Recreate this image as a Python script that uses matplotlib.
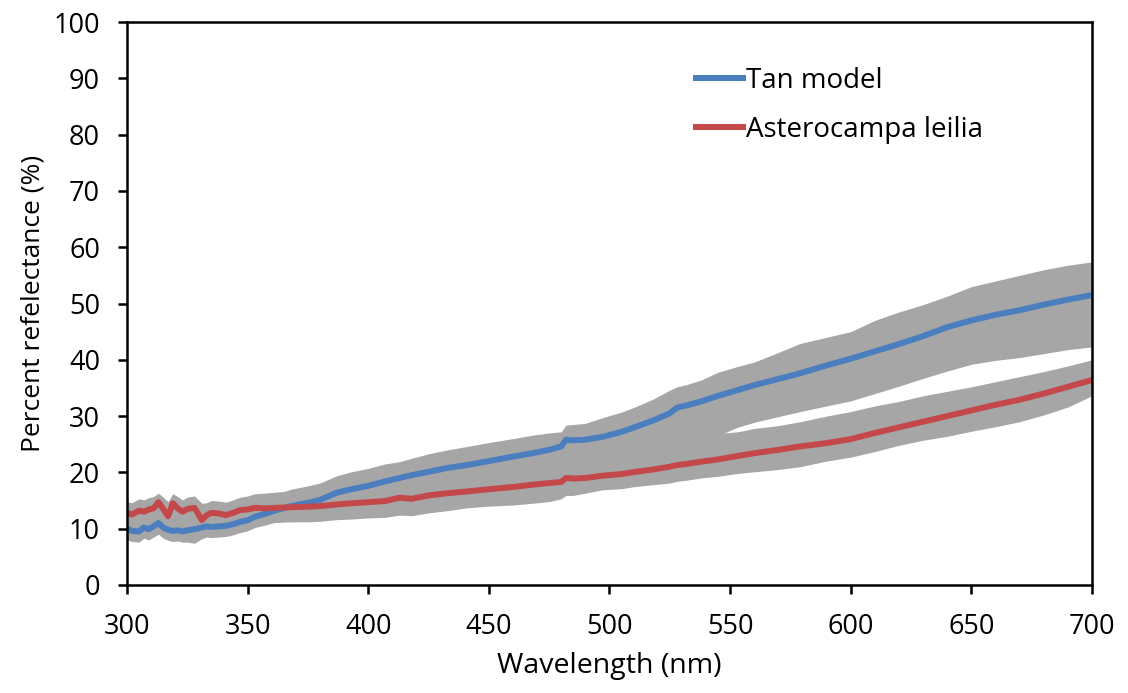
import numpy as np
import matplotlib
matplotlib.use("Agg")
import matplotlib.pyplot as plt

plt.rcParams['font.family'] = ['Open Sans', 'DejaVu Sans']

# wavelength grid (nm)
wl = [300, 302, 305, 307, 309, 311, 313, 315, 317, 319, 321, 323, 325, 328, 331,
      333, 335, 338, 341, 344, 347, 350, 353, 357, 362, 368, 375, 380, 387, 393,
      400, 407, 413, 418, 425, 433, 441, 450, 460, 468, 475, 480, 482, 485, 490,
      497, 505, 511, 518, 525, 528, 532, 538, 545, 553, 560, 570, 579, 590, 600,
      610, 620, 630, 640, 650, 660, 670, 680, 690, 700]

# Tan model mean and band edges
tan_mean = [10.0, 9.6, 9.5, 10.2, 9.9, 10.4, 11.0, 10.2, 9.8, 9.6, 9.7, 9.5, 9.7, 9.9, 10.2,
            10.4, 10.3, 10.4, 10.5, 10.8, 11.2, 11.5, 12.1, 12.6, 13.3, 14.0, 14.6, 15.1, 16.4, 17.0,
            17.6, 18.4, 19.0, 19.5, 20.1, 20.8, 21.3, 22.0, 22.8, 23.4, 24.0, 24.6, 25.8, 25.7, 25.8,
            26.3, 27.2, 28.1, 29.2, 30.5, 31.5, 31.9, 32.6, 33.6, 34.6, 35.5, 36.6, 37.6, 39.0, 40.2,
            41.5, 42.8, 44.2, 45.8, 47.0, 48.0, 48.8, 49.8, 50.7, 51.5]
tan_upper = [12.4, 12.0, 11.9, 12.7, 12.4, 12.9, 13.5, 12.7, 12.3, 12.1, 12.2, 12.0, 12.2, 12.4, 12.8,
             13.0, 12.9, 13.0, 13.1, 13.5, 13.9, 14.2, 14.9, 15.4, 16.2, 17.0, 17.6, 18.1, 19.4, 20.1,
             20.7, 21.5, 21.9, 22.5, 23.3, 24.0, 24.6, 25.3, 26.0, 26.6, 27.0, 27.2, 28.4, 28.5, 28.7,
             29.7, 30.7, 31.7, 33.0, 34.6, 35.2, 35.6, 36.4, 37.8, 38.8, 39.6, 41.3, 42.9, 44.0, 45.0,
             47.0, 48.5, 49.8, 51.3, 53.0, 54.0, 55.0, 56.0, 56.8, 57.4]
tan_lower = [8.0, 7.7, 7.6, 8.3, 8.0, 8.5, 9.0, 8.3, 7.9, 7.7, 7.8, 7.6, 7.6, 7.4, 8.2,
             8.5, 8.4, 8.5, 8.6, 8.9, 9.3, 9.6, 10.2, 10.6, 11.2, 11.8, 12.3, 12.8, 13.6, 14.2,
             14.6, 15.2, 15.7, 16.1, 16.6, 17.2, 17.6, 18.2, 18.9, 19.5, 20.0, 20.5, 21.2, 21.3, 21.6,
             22.0, 22.5, 23.0, 23.7, 24.4, 24.7, 25.0, 25.6, 26.5, 28.0, 28.9, 29.9, 30.8, 31.8, 32.7,
             34.0, 35.3, 36.7, 38.0, 39.2, 39.9, 40.4, 41.1, 41.8, 42.3]

# Asterocampa leilia mean and band edges
al_mean = [12.8, 12.5, 13.2, 13.0, 13.4, 13.6, 14.7, 13.5, 12.2, 14.5, 13.6, 13.0, 13.5, 13.7, 11.5,
           12.4, 12.8, 12.7, 12.4, 12.8, 13.3, 13.4, 13.7, 13.6, 13.7, 13.8, 13.9, 14.0, 14.3, 14.5,
           14.7, 14.9, 15.5, 15.3, 15.9, 16.3, 16.6, 17.0, 17.4, 17.8, 18.1, 18.3, 19.0, 18.9, 19.0,
           19.4, 19.7, 20.1, 20.5, 21.0, 21.3, 21.5, 21.9, 22.3, 22.9, 23.4, 24.0, 24.6, 25.2, 25.9,
           27.0, 28.0, 29.0, 30.0, 31.0, 32.0, 32.9, 34.0, 35.2, 36.4]
al_upper = [14.8, 14.6, 15.3, 15.1, 15.5, 15.7, 16.3, 15.6, 14.8, 16.2, 15.7, 15.1, 15.6, 15.8, 14.5,
            14.6, 15.0, 14.9, 14.7, 15.1, 15.6, 15.8, 16.2, 16.3, 16.5, 16.7, 16.9, 17.1, 17.4, 17.7,
            18.0, 18.3, 18.9, 18.8, 19.4, 19.9, 20.3, 20.8, 21.3, 21.7, 22.0, 22.3, 23.0, 22.9, 23.0,
            23.4, 23.9, 24.4, 25.0, 25.6, 25.9, 26.1, 26.5, 26.9, 27.2, 27.8, 28.3, 29.0, 30.0, 30.8,
            31.8, 32.6, 33.6, 34.4, 35.2, 36.1, 37.0, 37.9, 38.9, 40.0]
al_lower = [10.6, 10.4, 11.0, 10.9, 11.2, 11.4, 12.4, 11.3, 10.2, 12.2, 11.4, 10.9, 11.3, 11.4, 9.4,
            10.3, 10.6, 10.5, 10.3, 10.6, 11.0, 11.0, 11.2, 11.1, 11.1, 11.2, 11.2, 11.3, 11.6, 11.7,
            11.9, 12.0, 12.4, 12.3, 12.8, 13.2, 13.7, 14.0, 14.2, 14.5, 14.8, 15.3, 15.9, 15.9, 16.3,
            16.9, 17.1, 17.5, 17.8, 18.1, 18.4, 18.6, 19.0, 19.3, 19.8, 20.1, 20.5, 21.0, 22.0, 22.7,
            23.7, 24.8, 25.7, 26.4, 27.3, 28.1, 29.0, 30.2, 31.6, 33.6]

fig, ax = plt.subplots(figsize=(11.28, 6.93), dpi=100)
fig.subplots_adjust(left=0.1126, right=0.968, bottom=0.156, top=0.968)

gray = '#a6a6a6'
ax.fill_between(wl, tan_lower, tan_upper, color=gray, lw=0)
ax.fill_between(wl, al_lower, al_upper, color=gray, lw=0)
ax.plot(wl, tan_mean, color='#4a7ebf', lw=4.3, label='Tan model')
ax.plot(wl, al_mean, color='#c4484a', lw=4.3, label='Asterocampa leilia')

ax.set_xlim(300, 700)
ax.set_ylim(0, 100)
ax.set_xticks(np.arange(300, 701, 50))
ax.set_yticks(np.arange(0, 101, 10))
ax.tick_params(direction='out', length=6.5, width=1.8, labelsize=19.5)
ax.tick_params(axis='y', pad=13)
ax.tick_params(axis='x', pad=14)
for s in ax.spines.values():
    s.set_linewidth(1.8)
    s.set_color('black')

ax.set_xlabel('Wavelength (nm)', fontsize=20.5, labelpad=8)
ax.set_ylabel('Percent refelectance (%)', fontsize=19, labelpad=6)

ax.legend(loc='upper left', bbox_to_anchor=(0.578, 0.94), frameon=False,
          fontsize=20, handlelength=1.7, handletextpad=0.1, labelspacing=0.75,
          borderaxespad=0)

plt.savefig('out.png', dpi=100)
